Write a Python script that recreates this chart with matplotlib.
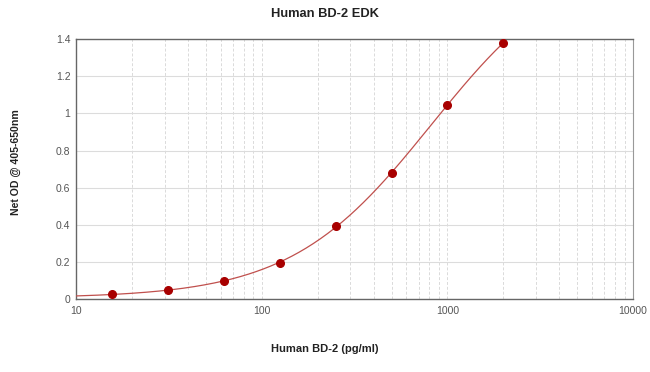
import numpy as np
import matplotlib
matplotlib.use('Agg')
from matplotlib import pyplot as plt
from matplotlib.ticker import LogLocator, FixedLocator, NullFormatter

# standard curve
conc = [15.6, 31.25, 62.5, 125, 250, 500, 1000, 2000]
od = [0.027, 0.048, 0.097, 0.194, 0.393, 0.679, 1.045, 1.38]
xticks = [10, 100, 1000, 10000]
yticks = [0, 0.2, 0.4, 0.6, 0.8, 1, 1.2, 1.4]
ytick_labels = ['0', '0.2', '0.4', '0.6', '0.8', '1', '1.2', '1.4']


def four_pl(x, p):
    a, b, c, d = p
    return d + (a - d) / (1 + (x / c) ** b)


def fit_4pl(x, y, p0, n_iter=200):
    # small Levenberg-Marquardt, no scipy here
    x = np.asarray(x, float)
    y = np.asarray(y, float)
    p = np.array(p0, float)
    lam = 1e-2
    for _ in range(n_iter):
        r = y - four_pl(x, p)
        J = np.empty((len(x), len(p)))
        for k in range(len(p)):
            dp = np.zeros_like(p)
            dp[k] = 1e-6 * max(abs(p[k]), 1e-3)
            J[:, k] = (four_pl(x, p + dp) - four_pl(x, p - dp)) / (2 * dp[k])
        A = J.T @ J
        g = J.T @ r
        step = np.linalg.solve(A + lam * np.diag(np.diag(A)), g)
        p_new = p + step
        if p_new[2] > 0 and np.sum((y - four_pl(x, p_new)) ** 2) < np.sum(r ** 2):
            p = p_new
            lam *= 0.3
        else:
            lam *= 10
    return p


plt.rcParams['font.family'] = ['Liberation Sans', 'DejaVu Sans']

fig = plt.figure(figsize=(6.5, 3.72), dpi=100)
ax = fig.add_axes([0.117, 0.196, 0.857, 0.699])

params = fit_4pl(conc, od, [0.01, 1.3, 2000, 3.0])
xs = np.logspace(1, np.log10(2000), 300)
ax.plot(xs, four_pl(xs, params), color='#c0504d', lw=0.9, zorder=3)
ax.plot(conc, od, 'o', color='#a80000', ms=5.5, zorder=4, clip_on=False)

ax.set_xscale('log')
ax.set_xlim(10, 10000)
ax.set_ylim(0, 1.4)
ax.xaxis.set_major_locator(FixedLocator(xticks))
ax.set_xticklabels([str(t) for t in xticks])
ax.xaxis.set_minor_locator(LogLocator(base=10, subs=np.arange(2, 10), numticks=20))
ax.xaxis.set_minor_formatter(NullFormatter())
ax.set_yticks(yticks)
ax.set_yticklabels(ytick_labels)

ax.grid(axis='x', which='both', color='#dadada', ls=(0, (3, 2)), lw=0.7)
ax.grid(axis='y', which='major', color='#dcdcdc', ls='-', lw=0.8)
ax.set_axisbelow(True)

ax.tick_params(which='both', length=0, labelsize=7.5, colors='#555555')
ax.tick_params(axis='y', pad=4)
ax.tick_params(axis='x', pad=5)

for s in ['left', 'bottom', 'top']:
    ax.spines[s].set_color('#666666')
    ax.spines[s].set_linewidth(1.0)
ax.spines['right'].set_color('#999999')

fig.text(0.5, 0.962, 'Human BD-2 EDK', ha='center', va='center',
         fontsize=9.3, fontweight='bold', color='#222222')
fig.text(0.5, 0.062, 'Human BD-2 (pg/ml)', ha='center', va='center',
         fontsize=8, fontweight='bold', color='#222222')
fig.text(0.024, 0.565, 'Net OD @ 405-650nm', ha='center', va='center',
         rotation=90, fontsize=7.6, fontweight='bold', color='#222222')

fig.savefig('out.png', dpi=100)
